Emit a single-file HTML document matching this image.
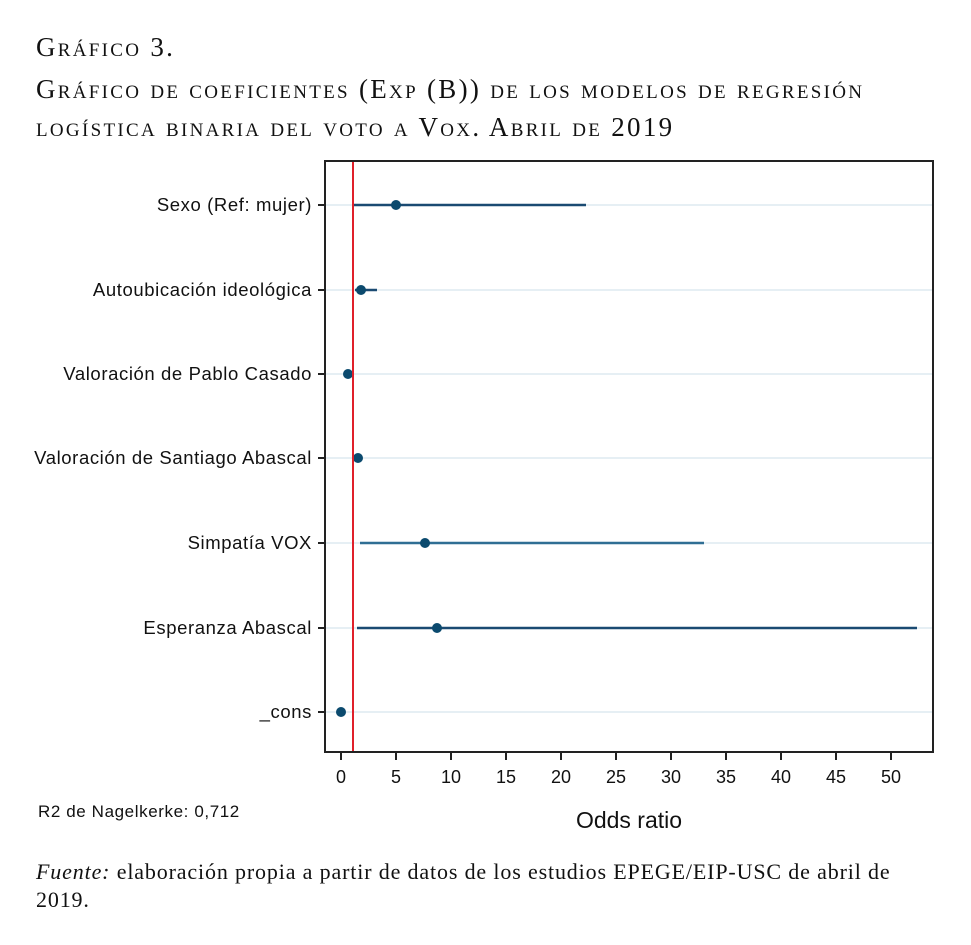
<!DOCTYPE html><html><head><style>
body{margin:0;background:#fff;width:971px;height:945px;overflow:hidden;position:relative;font-family:"Liberation Sans",sans-serif}
.t{position:absolute;left:36px;font-family:"Liberation Serif",serif;font-variant:small-caps;font-size:27px;color:#111;letter-spacing:2.3px;line-height:1}
.f{position:absolute;left:36px;top:858px;font-family:"Liberation Serif",serif;font-size:22px;color:#111;line-height:28px;width:870px;letter-spacing:0.85px}
</style></head><body>
<div class="t" style="top:34px">Gráfico 3.</div>
<div class="t" style="top:76px">Gráfico de coeficientes (Exp (B)) de los modelos de regresión</div>
<div class="t" style="top:114px">logística binaria del voto a Vox. Abril de 2019</div>
<svg width="971" height="945" style="position:absolute;left:0;top:0" font-family="Liberation Sans, sans-serif">
<rect x="325" y="161" width="608" height="591" fill="none" stroke="#222" stroke-width="2"/>
<g stroke="#e6eff4" stroke-width="2">
<line x1="326" x2="932" y1="205" y2="205"/><line x1="326" x2="932" y1="290" y2="290"/><line x1="326" x2="932" y1="374" y2="374"/><line x1="326" x2="932" y1="458" y2="458"/><line x1="326" x2="932" y1="543" y2="543"/><line x1="326" x2="932" y1="628" y2="628"/><line x1="326" x2="932" y1="712" y2="712"/>
</g>
<g stroke="#222" stroke-width="2">
<line x1="318" x2="325" y1="205" y2="205"/><line x1="318" x2="325" y1="290" y2="290"/><line x1="318" x2="325" y1="374" y2="374"/><line x1="318" x2="325" y1="458" y2="458"/><line x1="318" x2="325" y1="543" y2="543"/><line x1="318" x2="325" y1="628" y2="628"/><line x1="318" x2="325" y1="712" y2="712"/>
</g>
<g font-size="18.5" text-anchor="end" fill="#111" letter-spacing="0.6">
<text x="312" y="211">Sexo (Ref: mujer)</text><text x="312" y="296">Autoubicación ideológica</text><text x="312" y="380">Valoración de Pablo Casado</text><text x="312" y="464">Valoración de Santiago Abascal</text><text x="312" y="549">Simpatía VOX</text><text x="312" y="634">Esperanza Abascal</text><text x="312" y="718">_cons</text>
</g>
<g stroke="#222" stroke-width="2">
<line x1="341" x2="341" y1="752" y2="760"/><line x1="396" x2="396" y1="752" y2="760"/><line x1="451" x2="451" y1="752" y2="760"/><line x1="506" x2="506" y1="752" y2="760"/><line x1="561" x2="561" y1="752" y2="760"/><line x1="616" x2="616" y1="752" y2="760"/><line x1="671" x2="671" y1="752" y2="760"/><line x1="726" x2="726" y1="752" y2="760"/><line x1="781" x2="781" y1="752" y2="760"/><line x1="836" x2="836" y1="752" y2="760"/><line x1="891" x2="891" y1="752" y2="760"/>
</g>
<g font-size="18" text-anchor="middle" fill="#111">
<text x="341" y="783">0</text><text x="396" y="783">5</text><text x="451" y="783">10</text><text x="506" y="783">15</text><text x="561" y="783">20</text><text x="616" y="783">25</text><text x="671" y="783">30</text><text x="726" y="783">35</text><text x="781" y="783">40</text><text x="836" y="783">45</text><text x="891" y="783">50</text>
</g>
<text x="629" y="828" font-size="23" text-anchor="middle" fill="#111">Odds ratio</text>
<text x="38" y="817" font-size="17" fill="#111" letter-spacing="0.6">R2 de Nagelkerke: 0,712</text>
<g stroke="#1a4a72" stroke-width="2.5">
<line x1="353" x2="586" y1="205" y2="205"/><line x1="355" x2="377" y1="290" y2="290"/><line x1="345" x2="352" y1="374" y2="374"/><line x1="354" x2="362" y1="458" y2="458"/><line x1="360" x2="704" y1="543" y2="543" stroke="#2f6e94"/><line x1="357" x2="917" y1="628" y2="628"/>
</g>
<g fill="#0b4a6e">
<circle cx="396" cy="205" r="5"/><circle cx="361" cy="290" r="5"/><circle cx="348" cy="374" r="5"/><circle cx="358" cy="458" r="5"/><circle cx="425" cy="543" r="5"/><circle cx="437" cy="628" r="5"/><circle cx="341" cy="712" r="5"/>
</g>
<line x1="353" x2="353" y1="162" y2="751" stroke="#e0202a" stroke-width="2"/>
</svg>
<div class="f"><i>Fuente:</i> elaboración propia a partir de datos de los estudios EPEGE/EIP-USC de abril de 2019.</div>
</body></html>
